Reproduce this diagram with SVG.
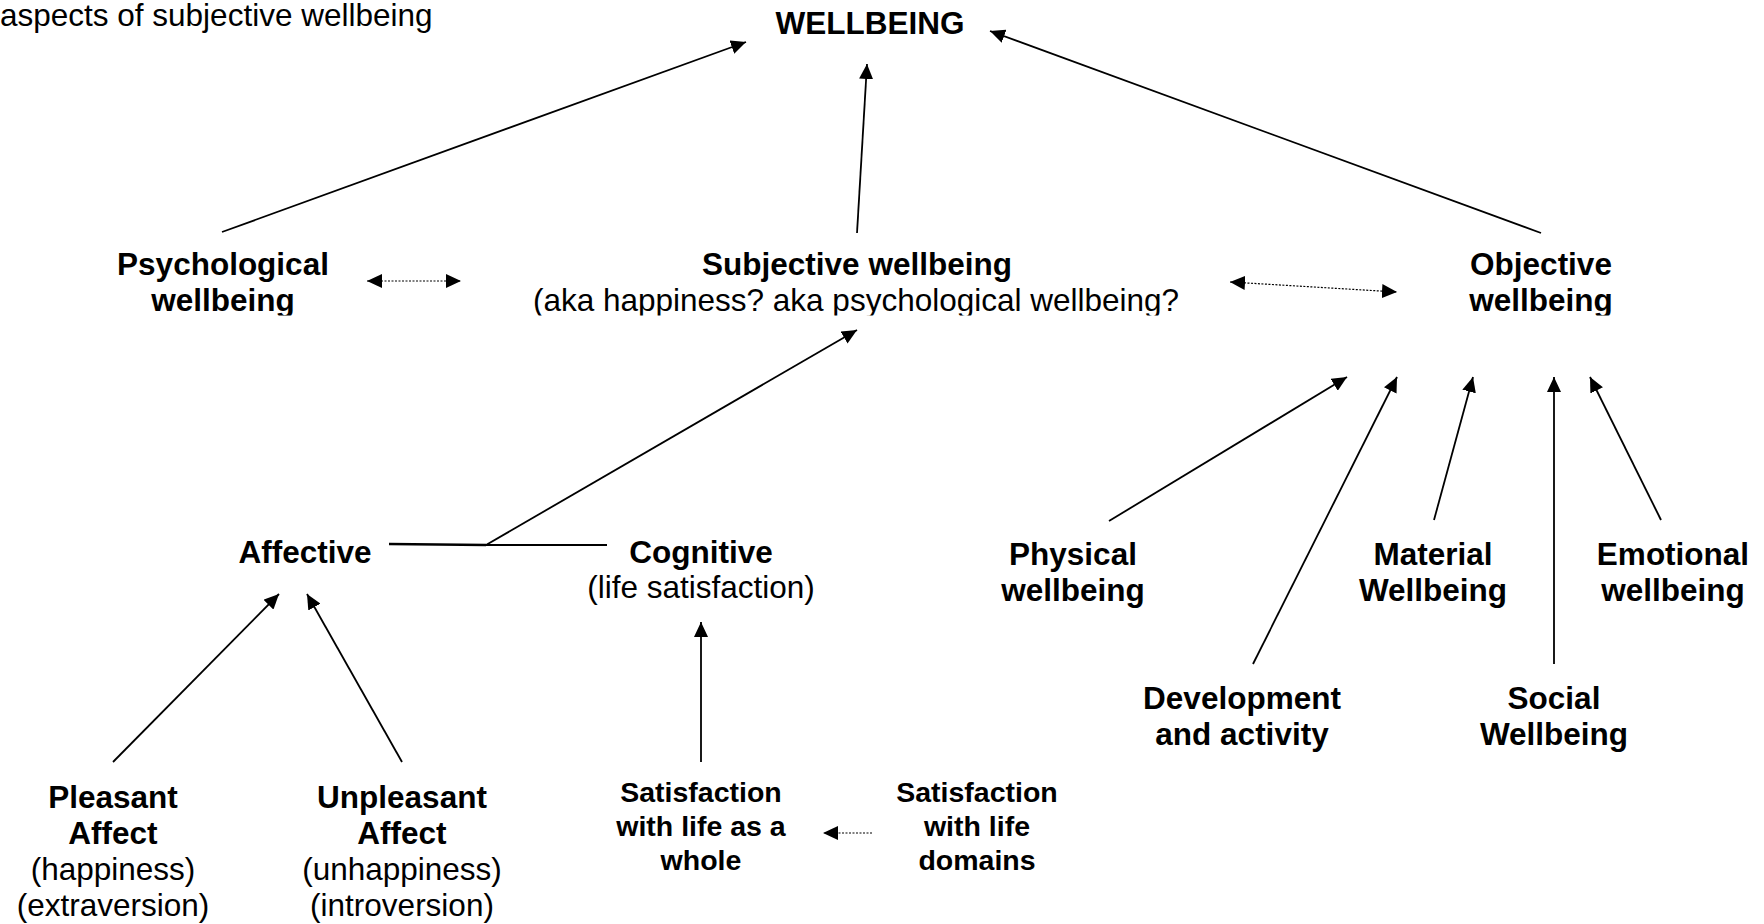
<svg xmlns="http://www.w3.org/2000/svg" width="1764" height="924" viewBox="0 0 1764 924">
<style>
text{font-family:"Liberation Sans",Arial,sans-serif;fill:#000;font-size:31.5px;text-anchor:middle}
.b{font-weight:bold}
.s{font-size:28.5px;font-weight:bold}
.c line{stroke:#000;stroke-width:1.8;fill:none}
.c line.a{marker-end:url(#ah)}
.c line.d{stroke-width:1.2;stroke-dasharray:2 1.5;marker-start:url(#ah);marker-end:url(#ah)}
.c line.d1{stroke-width:1.2;stroke-dasharray:2 1.5;marker-end:url(#ah)}
</style>
<defs>
<marker id="ah" markerUnits="userSpaceOnUse" markerWidth="16" markerHeight="14" refX="15" refY="7" orient="auto-start-reverse" viewBox="0 0 16 14">
<path d="M0,0 L15,7 L0,14 z" fill="#000"/>
</marker>
<clipPath id="clipTop"><rect x="0" y="0" width="1764" height="315.5"/></clipPath>
</defs>
<rect width="1764" height="924" fill="#fff"/>

<g id="title"><text x="0" y="26" style="text-anchor:start">aspects of subjective wellbeing</text></g>
<g id="wellbeing"><text class="b" x="870" y="34">WELLBEING</text></g>
<g id="psychological" clip-path="url(#clipTop)"><text class="b" x="223" y="275">Psychological</text><text class="b" x="223" y="311">wellbeing</text></g>
<g id="subjective" clip-path="url(#clipTop)"><text class="b" x="857" y="275">Subjective wellbeing</text><text x="856" y="311">(aka happiness? aka psychological wellbeing?</text></g>
<g id="objective" clip-path="url(#clipTop)"><text class="b" x="1541" y="275">Objective</text><text class="b" x="1541" y="311">wellbeing</text></g>
<g id="affective"><text class="b" x="305" y="563">Affective</text></g>
<g id="cognitive"><text class="b" x="701" y="563">Cognitive</text><text x="701" y="598">(life satisfaction)</text></g>
<g id="pleasant"><text class="b" x="113" y="808">Pleasant</text><text class="b" x="113" y="844">Affect</text><text x="113" y="880">(happiness)</text><text x="113" y="916">(extraversion)</text></g>
<g id="unpleasant"><text class="b" x="402" y="808">Unpleasant</text><text class="b" x="402" y="844">Affect</text><text x="402" y="880">(unhappiness)</text><text x="402" y="916">(introversion)</text></g>
<g id="sat-whole"><text class="s" x="701" y="802">Satisfaction</text><text class="s" x="701" y="836">with life as a</text><text class="s" x="701" y="870">whole</text></g>
<g id="sat-domains"><text class="s" x="977" y="802">Satisfaction</text><text class="s" x="977" y="836">with life</text><text class="s" x="977" y="870">domains</text></g>
<g id="physical"><text class="b" x="1073" y="565">Physical</text><text class="b" x="1073" y="601">wellbeing</text></g>
<g id="material"><text class="b" x="1433" y="565">Material</text><text class="b" x="1433" y="601">Wellbeing</text></g>
<g id="emotional"><text class="b" x="1673" y="565">Emotional</text><text class="b" x="1673" y="601">wellbeing</text></g>
<g id="development"><text class="b" x="1242" y="709">Development</text><text class="b" x="1242" y="745">and activity</text></g>
<g id="social"><text class="b" x="1554" y="709">Social</text><text class="b" x="1554" y="745">Wellbeing</text></g>

<g id="connectors" class="c">
<line class="a" x1="222" y1="232" x2="746" y2="42"/>
<line class="a" x1="857" y1="233" x2="867" y2="64"/>
<line class="a" x1="1541" y1="233" x2="990" y2="31"/>
<line class="d" x1="367" y1="281" x2="461" y2="281"/>
<line class="d" x1="1230" y1="282" x2="1397" y2="292"/>
<line x1="389" y1="544" x2="486" y2="545" style="stroke-width:2.6"/>
<line x1="486" y1="545" x2="607" y2="545"/>
<line class="a" x1="486" y1="545" x2="857" y2="330"/>
<line class="a" x1="113" y1="762" x2="279" y2="594"/>
<line class="a" x1="402" y1="762" x2="307" y2="594"/>
<line class="a" x1="701" y1="762" x2="701" y2="622"/>
<line class="d1" x1="872" y1="833" x2="823" y2="833"/>
<line class="a" x1="1109" y1="521" x2="1347" y2="377"/>
<line class="a" x1="1253" y1="664" x2="1397" y2="377"/>
<line class="a" x1="1434" y1="520" x2="1473" y2="377"/>
<line class="a" x1="1554" y1="664" x2="1554" y2="377"/>
<line class="a" x1="1661" y1="520" x2="1590" y2="377"/>
</g>
</svg>
